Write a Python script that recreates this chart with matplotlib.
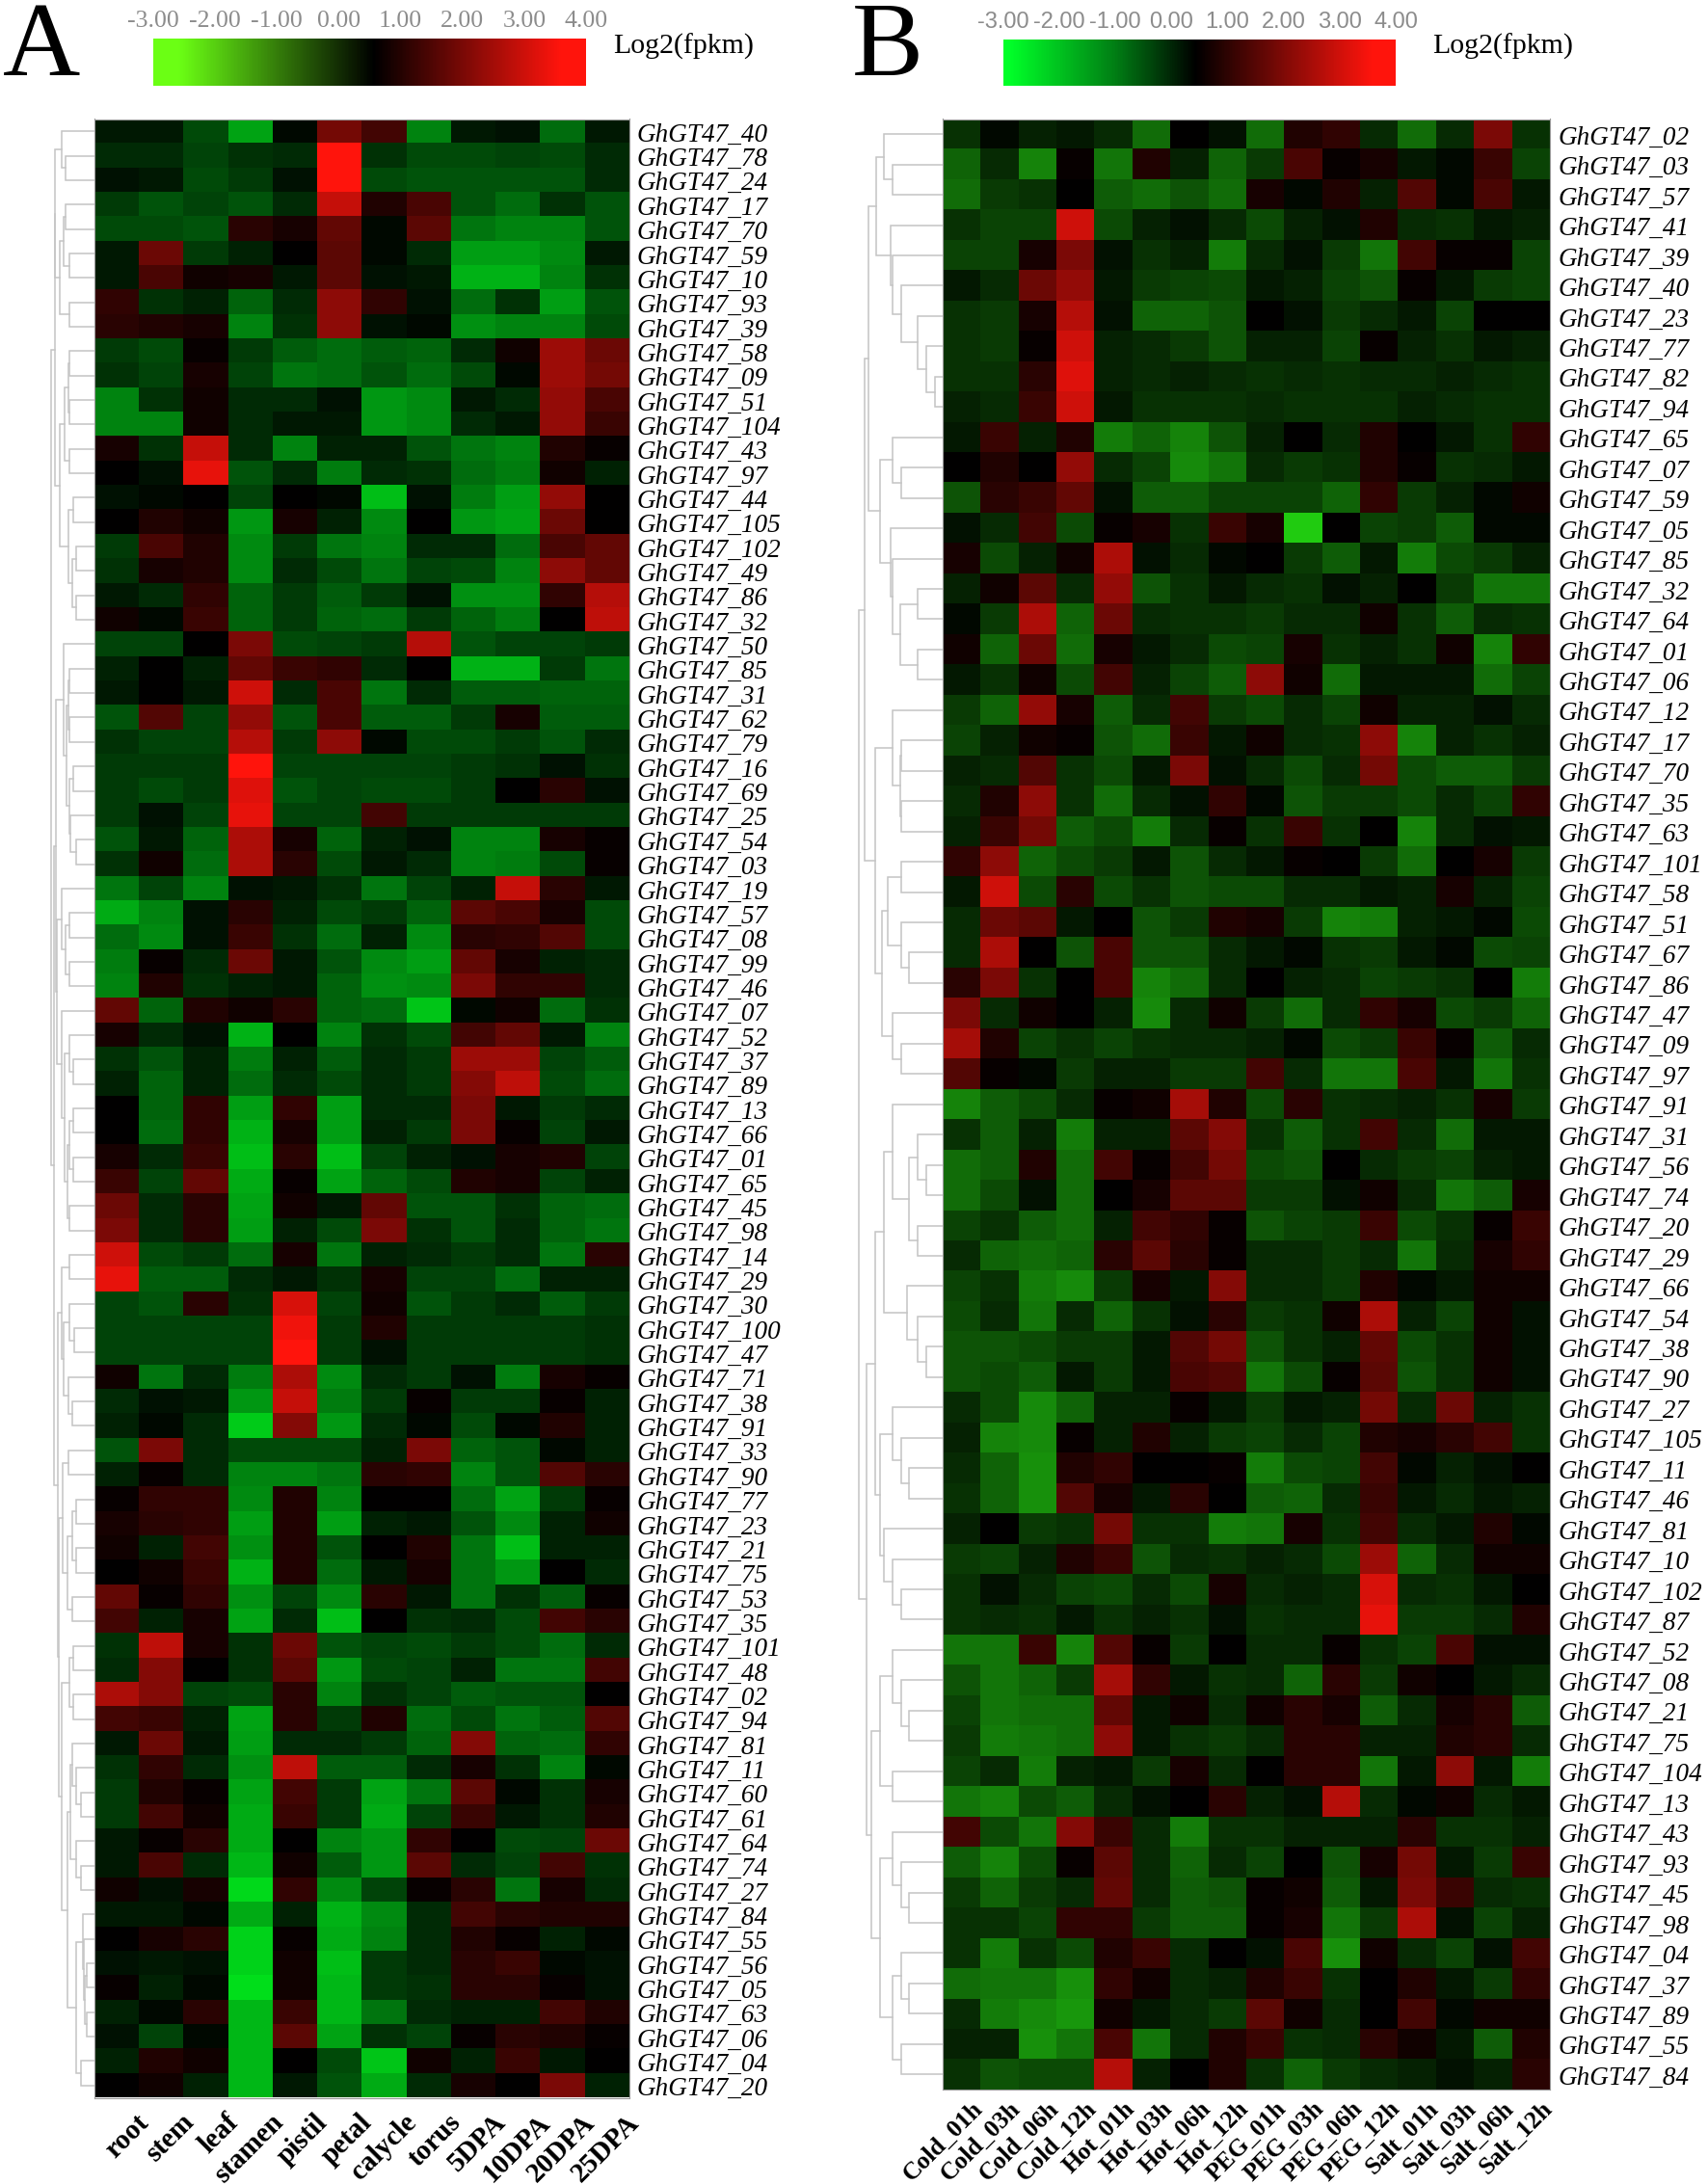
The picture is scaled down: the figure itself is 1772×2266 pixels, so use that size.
import numpy as np
import matplotlib
matplotlib.use("Agg")
import matplotlib.pyplot as plt
from matplotlib.colors import LinearSegmentedColormap, Normalize

W, H = 1772, 2266

# panel A
tissues = ['root', 'stem', 'leaf', 'stamen', 'pistil', 'petal', 'calycle', 'torus', '5DPA', '10DPA', '20DPA', '25DPA']
genes_a = ['40','78','24','17','70','59','10','93','39','58','09','51','104','43','97','44','105','102','49','86','32',
           '50','85','31','62','79','16','69','25','54','03','19','57','08','99','46','07','52','37','89','13','66','01',
           '65','45','98','14','29','30','100','47','71','38','91','33','90','77','23','21','75','53','35','101','48','02',
           '94','81','11','60','61','64','74','27','84','55','56','05','63','06','04','20']
vals_a = [
 [.2,.2,-.4,-1.6,.4,1.9,1.3,-1.1,.2,.3,-.8,.2],
 [0,0,-.3,-.1,0,3.6,-.1,-.4,-.4,-.3,-.4,0],
 [.3,.2,-.4,-.2,.3,3.6,-.4,-.5,-.5,-.5,-.5,0],
 [-.2,-.5,-.3,-.5,0,2.9,.9,1.4,-.5,-.8,-.1,-.5],
 [-.4,-.4,-.5,1.0,.8,1.7,.4,1.6,-.9,-1.1,-1.1,-.5],
 [.2,1.8,-.2,.1,.5,1.6,.4,0,-1.5,-1.5,-1.2,.2],
 [.2,1.4,.7,.8,.2,1.6,.3,.2,-1.8,-1.8,-1.1,-.1],
 [1.1,-.1,.1,-.7,0,2.2,1.1,.3,-.8,-.1,-1.5,-.5],
 [1.0,.9,.8,-1.1,-.1,2.2,.3,.4,-1.3,-1.1,-1.1,-.4],
 [-.2,-.4,.6,-.2,-.6,-.8,-.6,-.7,0,.7,2.4,1.8],
 [-.1,-.3,.8,-.3,-.9,-.8,-.5,-.8,-.4,.4,2.4,1.9],
 [-1.1,-.1,.7,0,0,.3,-1.4,-1.2,.2,0,2.3,1.4],
 [-1.1,-1.1,.7,0,.2,.2,-1.4,-1.2,0,.2,2.3,1.2],
 [.8,-.1,2.9,0,-1.1,.1,.1,-.5,-.9,-1.1,.9,.6],
 [.5,.3,3.3,-.5,0,-1,0,-.1,-.8,-1,.7,.1],
 [.3,.4,.5,-.3,.5,.4,-2,.3,-1,-1.5,2.3,.5],
 [.5,.9,.7,-1.4,.8,.1,-1.2,.5,-1.4,-1.6,1.8,.5],
 [-.2,1.4,.9,-1.2,-.2,-.9,-1.1,0,0,-.8,1.4,1.7],
 [-.1,.8,.9,-1.2,0,-.4,-.9,-.3,-.4,-1.1,2.2,1.7],
 [.2,0,1.1,-.7,-.2,-.6,-.2,.3,-1.3,-1.3,1.1,2.7],
 [.7,.4,1.2,-.7,-.2,-.7,-.8,-.2,-.7,-1,.5,2.8],
 [-.3,-.3,.5,2.0,-.4,-.3,-.2,2.7,-.5,-.3,-.3,-.2],
 [.1,.5,.1,1.7,1.2,1.1,0,.5,-1.8,-1.8,-.2,-.9],
 [.2,.5,.2,3.0,0,1.4,-.9,0,-.6,-.6,-.7,-.7],
 [-.5,1.5,-.3,2.3,-.5,1.4,-.6,-.6,-.2,.8,-.6,-.6],
 [-.1,-.3,-.3,2.7,-.2,2.2,.4,-.4,-.4,-.2,-.5,0],
 [-.2,-.2,-.2,3.6,-.3,-.3,-.3,-.3,-.2,-.1,.3,-.1],
 [-.2,-.4,-.2,3.2,-.5,-.3,-.4,-.4,-.2,.5,1.0,.3],
 [-.2,.3,-.3,3.3,-.3,-.3,1.3,-.2,-.2,-.2,-.2,-.2],
 [-.5,.2,-.7,2.6,.8,-.7,.1,.3,-1.1,-1.1,.8,.6],
 [-.1,.7,-.8,2.6,1.0,-.4,.2,0,-1.1,-1,-.4,.6],
 [-.9,-.3,-1.1,.3,.2,-.1,-.9,-.3,.1,2.9,1.0,.2],
 [-1.7,-1.1,.3,1.0,.1,-.4,-.2,-.7,1.6,1.4,.8,-.4],
 [-.8,-1.2,.3,1.2,-.1,-.8,.1,-1.2,1.0,1.1,1.5,-.4],
 [-1,.6,0,1.8,.2,-.5,-1.2,-1.5,1.7,.8,.1,0],
 [-1.1,.9,-.1,.1,.2,-.7,-1.3,-1.2,2.0,1.1,1.1,0],
 [1.7,-.7,.9,.7,1,-.7,-.8,-2.1,.4,.7,-.8,-.1],
 [.8,0,.3,-1.8,.5,-1.1,-.1,-.4,1.3,1.7,.2,-1.1],
 [-.1,-.5,.1,-1,.1,-.6,0,-.2,2.4,2.4,-.3,-.6],
 [.1,-.7,.1,-.8,0,-.4,0,-.2,2.1,2.8,-.4,-.8],
 [.5,-.7,1.1,-1.5,1.1,-1.5,0,0,2.0,.2,-.2,0],
 [.5,-.8,1.1,-1.8,.8,-1.5,.1,-.2,2,.6,-.3,.2],
 [.8,0,1.2,-2,1,-2,-.3,.1,.3,.8,.9,-.3],
 [1.2,-.3,1.7,-1.7,.6,-1.6,-.7,-.4,.9,.8,-.3,.1],
 [1.8,0,1,-1.6,.7,.2,1.7,-.5,-.5,-.1,-.7,-.8],
 [2,0,1,-1.5,.1,-.4,2,-.1,-.5,0,-.7,-.9],
 [3.0,-.4,-.2,-.8,.8,-.9,.1,0,-.2,0,-.9,1.0],
 [3.3,-.6,-.6,0,.2,-.1,.8,-.3,-.3,-.8,.1,.1],
 [-.3,-.5,1,-.1,3.1,-.3,.7,-.5,-.2,0,-.6,-.2],
 [-.3,-.3,-.3,-.3,3.4,-.2,.9,-.2,-.2,-.2,-.2,-.1],
 [-.3,-.3,-.3,-.3,3.6,-.2,.3,-.2,-.2,-.2,-.2,-.1],
 [.7,-.9,0,-1,2.6,-1.2,0,-.2,.3,-1,.8,.6],
 [0,.3,.2,-1.4,2.9,-1,-.2,.6,-.2,-.2,.6,.1],
 [.1,.4,0,-2.2,2.1,-1.4,0,.4,-.4,.4,.9,.1],
 [-.5,2,0,-.4,-.4,-.4,.1,2.0,-.7,-.5,.4,.1],
 [.1,.6,0,-1.1,-1.1,-.9,1.0,1.1,-1.1,-.5,1.5,1.0],
 [.6,1.1,1.1,-1.2,.9,-1.1,.5,.5,-.8,-1.6,-.2,.6],
 [.8,1,1.1,-1.5,.9,-1.5,.1,.2,-.5,-1.2,.1,.7],
 [.7,.1,1.3,-1.3,.9,-.5,.5,.9,-.9,-2,.1,.1],
 [.5,.7,1.2,-1.8,.9,-.8,.2,.8,-.9,-1.4,.5,0],
 [1.7,.6,1.1,-1.3,-.3,-1.2,1,.2,-.9,-.1,-.6,.6],
 [1.3,.1,.8,-1.6,0,-2,.5,-.1,0,-.4,1.3,1],
 [-.1,2.8,.8,-.1,1.8,-.5,-.3,-.4,-.2,-.4,-.8,0],
 [0,2.1,.5,-.1,1.6,-1.4,-.4,-.3,.1,-.9,-.9,1.3],
 [2.6,2.1,-.3,-.4,1,-1.1,-.1,-.3,-.6,-.5,-.5,.5],
 [1.3,1.2,.1,-1.6,1,-.2,.9,-.8,-.4,-.9,-.6,1.5],
 [.2,1.8,.2,-1.5,0,0,-.2,-.7,2.1,-.7,-.8,1.1],
 [-.1,1.1,0,-1.3,2.8,-.6,-.6,0,.8,-.1,-1.1,.4],
 [-.2,.9,.6,-1.6,1.3,-.2,-1.6,-.9,1.6,.4,-.1,.8],
 [-.2,1.3,.7,-1.7,1.2,-.2,-1.7,-.3,1.2,.2,-.1,.9],
 [.2,.6,1,-1.7,.5,-1.1,-1.4,1.1,.5,-.4,-.3,1.8],
 [.2,1.4,0,-1.9,.7,-.6,-1.4,1.6,0,-.3,1.3,-.1],
 [.7,.3,.8,-2.4,1.1,-1.2,-.3,.6,1,-.9,.8,0],
 [.2,.2,.4,-1.7,.1,-1.8,-1.2,0,1.3,1,.9,.9],
 [.5,.8,1,-2.3,.6,-1.7,-1.1,0,.9,.6,.1,.4],
 [.3,.2,.3,-2.3,.7,-2,-.2,0,1,1.2,.4,.3],
 [.6,.1,.4,-2.5,.7,-1.9,-.2,-.1,1,1,.6,.3],
 [.1,.4,1,-1.9,1.2,-1.9,-.9,0,.1,.1,1.3,.9],
 [.3,-.3,.4,-1.9,1.6,-1.6,-.1,-.3,.6,1,.9,.6],
 [.1,.9,.7,-1.9,.5,-.4,-2.1,.7,.1,1.2,.2,.5],
 [.5,.7,.1,-1.9,.2,-.5,-1.7,0,.8,.5,2.0,.1],
]

# panel B
stresses = ['Cold_01h','Cold_03h','Cold_06h','Cold_12h','Hot_01h','Hot_03h','Hot_06h','Hot_12h',
            'PEG_01h','PEG_03h','PEG_06h','PEG_12h','Salt_01h','Salt_03h','Salt_06h','Salt_12h']
genes_b = ['02','03','57','41','39','40','23','77','82','94','65','07','59','05','85','32','64','01','06','12','17','70',
           '35','63','101','58','51','67','86','47','09','97','91','31','56','74','20','29','66','54','38','90','27',
           '105','11','46','81','10','102','87','52','08','21','75','104','13','43','93','45','98','04','37','89','55','84']
vals_b = [
 [-.1,.4,.1,.2,0,-.8,.5,.3,-.8,.9,1.1,0,-.8,0,2,-.1],
 [-.7,0,-1.1,.6,-.9,.9,.1,-.7,-.2,1.4,.6,.8,.2,.4,1.2,-.3],
 [-.8,-.2,-.1,.5,-.6,-.8,-.5,-.8,.8,.4,.9,.1,1.5,.4,1.4,.2],
 [-.1,-.3,-.3,3,-.4,.1,.3,0,-.4,.1,.3,.9,0,-.1,.2,.1],
 [-.3,-.3,.8,2,.3,-.1,.1,-1,0,.3,-.2,-.9,1.3,.6,.6,-.3],
 [.2,0,1.8,2.3,.2,-.2,-.3,-.4,.2,.1,-.3,-.5,.6,.2,-.2,-.3],
 [-.1,-.2,.8,2.7,.3,-.7,-.7,-.5,.5,.3,-.2,0,.2,-.3,.5,.5],
 [-.1,-.2,.6,3,.1,0,-.2,-.5,.1,.1,-.3,.6,.1,-.1,.2,.1],
 [-.1,-.1,1,3.2,.1,0,.1,0,-.1,0,-.1,0,0,.1,0,-.1],
 [.1,0,1.2,3,.2,-.1,-.1,-.1,0,-.1,-.1,-.1,.1,0,-.1,-.1],
 [.2,1.2,.1,.9,-1,-.7,-1.1,-.5,.1,.5,0,.9,.5,.2,-.1,1.1],
 [.5,.9,.5,2.3,0,-.3,-1.2,-.9,0,-.2,-.1,.9,.6,-.1,0,.2],
 [-.5,1,1.2,1.7,.3,-.6,-.6,-.3,-.3,-.3,-.7,1.1,-.2,.1,.4,.7],
 [.3,0,1.3,-.4,.6,.8,-.1,1.2,.8,-2.2,.5,-.3,-.2,-.6,.4,.4],
 [.8,-.4,.1,.7,2.6,.3,0,.4,.5,-.2,-.6,.2,-1,-.4,-.2,.1],
 [.1,.7,1.6,0,2.3,-.5,-.1,.2,0,-.1,.3,.1,.5,-.2,-.9,-.9],
 [.4,-.2,2.6,-.7,1.8,0,-.1,-.1,-.2,0,0,.7,-.1,-.6,0,-.1],
 [.7,-.7,1.8,-.8,.8,.2,0,-.4,-.3,.8,-.1,.1,-.1,.7,-1.1,1.1],
 [.2,-.1,.7,-.4,1.3,.1,-.3,-.6,2.2,.7,-.8,.2,.2,.2,-.8,-.3],
 [-.2,-.7,2.3,.8,-.6,0,1.3,-.2,-.4,0,-.3,.7,.1,.1,.3,0],
 [-.3,.1,.7,.6,-.5,-.8,1.2,.2,.7,0,-.1,2.2,-1.1,.1,-.1,.1],
 [.1,0,1.5,-.1,-.4,.2,2,.3,0,-.4,0,1.9,-.4,-.6,-.6,-.2],
 [0,.9,2.2,-.1,-.8,0,.3,1.1,.4,-.5,-.2,-.2,-.4,0,-.3,1.1],
 [.1,1.2,1.9,-.6,-.4,-1,0,.6,-.1,1.2,-.1,.5,-1.1,0,.3,.2],
 [1.1,2.2,-.7,-.4,-.2,.2,-.5,0,.2,.6,.5,-.2,-.8,.5,.8,-.2],
 [.2,3,-.4,1,-.4,-.1,-.5,-.4,-.4,0,0,.2,.1,.8,.1,-.3],
 [0,1.8,1.6,.2,.5,-.5,-.2,.9,.8,-.2,-1.1,-1,.1,.2,.4,-.4],
 [0,2.6,.5,-.5,1.4,-.5,-.5,0,.2,.4,-.1,-.2,.2,.4,-.4,-.3],
 [1,2,-.1,.5,1.4,-1.1,-.8,0,.5,.1,0,-.3,-.2,-.1,.5,-1],
 [2,0,.7,.5,.1,-1.2,0,.7,-.2,-.8,0,1.1,.8,-.4,-.2,-.7],
 [2.5,.9,-.3,-.1,-.3,-.1,0,0,.1,.4,-.4,-.2,1.2,.6,-.6,0],
 [1.5,.6,.4,-.2,.1,.1,-.2,-.2,1.3,0,-.9,-.9,1.4,.2,-.9,-.1],
 [-1.1,-.6,-.4,0,.6,.7,2.5,.9,-.4,1,-.1,0,.1,-.1,.8,-.2],
 [-.1,-.6,.1,-1,.1,.1,1.6,2.1,-.1,-.6,-.1,1.3,0,-.8,.2,.2],
 [-.8,-.6,.9,-.8,1.3,.6,1.3,1.9,-.4,-.5,.5,0,-.2,-.3,.1,.2],
 [-.8,-.4,.3,-.8,.5,.8,1.6,1.6,-.2,-.2,.3,.7,0,-.9,-.6,.8],
 [-.3,-.1,-.6,-.8,.1,1.3,1.1,.6,-.5,-.3,-.2,1.2,-.4,-.1,.6,1.2],
 [0,-.7,-.8,-.7,1,1.6,1,.6,0,0,-.2,0,-.9,0,.8,1.1],
 [-.3,-.1,-1,-1.2,-.2,.8,.2,2.1,0,0,-.2,.9,.4,.2,.7,.7],
 [-.4,0,-.9,0,-.7,-.1,.3,1,-.2,-.1,.7,2.6,.1,-.3,.7,.3],
 [-.5,-.5,-.4,-.2,-.2,.2,1.5,1.9,-.5,-.1,.1,1.7,-.4,-.1,.7,.3],
 [-.5,-.4,-.6,.2,-.2,.2,1.4,1.5,-.9,-.4,.6,1.6,-.5,-.1,.7,.3],
 [0,-.4,-1.2,-.7,.1,.1,.6,.2,-.2,.2,.1,1.9,0,1.8,.1,-.1],
 [.1,-1.1,-1.2,.6,.1,.9,.1,-.2,-.3,0,-.3,.9,.8,1,1.3,-.1],
 [0,-.7,-1.3,.9,1.1,.5,.5,.6,-1,-.4,-.3,1.3,.4,.1,.3,.5],
 [-.1,-.7,-1.3,1.5,.8,.2,1,.5,-.6,-.7,0,1.2,.2,0,.2,.1],
 [.1,.5,-.2,-.1,1.9,-.1,-.1,-1,-.9,.8,-.1,1.3,0,.2,.9,.4],
 [-.2,-.3,.1,.9,1.2,-.5,0,-.1,.1,0,-.4,2.4,-.7,0,.7,.7],
 [-.1,.3,0,-.3,-.4,0,-.4,.8,0,.1,0,3.1,0,-.1,.2,.5],
 [-.1,0,-.1,.2,-.1,.1,-.1,.3,-.1,0,0,3.3,-.2,-.2,0,.9],
 [-.9,-.9,1.2,-1.1,1.5,.6,-.2,.5,0,0,.6,-.1,-.3,1.4,.3,.3],
 [-.5,-.9,-.7,-.2,2.5,1.1,.2,-.1,0,-.7,1,-.2,.7,.5,.2,0],
 [-.3,-.9,-.8,-.8,1.7,.2,.7,0,.7,1,.8,-.6,0,.8,1,-.6],
 [-.2,-1,-.9,-.8,2.2,.2,-.1,-.2,0,1,1,.1,.1,.9,1,0],
 [-.3,0,-1,.1,.2,-.2,.8,0,.5,1,1,-.9,.2,2.2,.2,-1],
 [-.9,-1.1,-.4,-.6,0,.3,.5,1,.1,.3,2.7,0,.4,.7,0,.2],
 [1.3,-.4,-.9,2.1,1.2,0,-1,-.1,-.1,.1,.1,.1,1,-.1,-.1,.1],
 [-.6,-1.1,-.4,.6,1.6,0,-.7,0,-.3,.5,-.5,.8,1.9,.2,-.2,1.2],
 [-.2,-.7,-.2,0,1.7,0,-.6,-.5,.6,.7,-.6,.2,2,1.2,0,-.1],
 [-.1,-.1,-.3,1.1,1.1,-.2,-.6,-.6,.6,.8,-.9,-.2,2.6,.3,-.3,.1],
 [-.1,-1,-.1,-.4,.9,1.2,0,.5,.3,1.4,-1.3,.7,0,-.3,.3,1.3],
 [-.8,-.9,-.9,-1.3,1.1,.7,0,.1,.9,1.2,-.1,.5,.9,.2,-.2,1.1],
 [0,-1,-1.2,-1.4,.7,.2,0,-.2,1.6,.7,0,.5,1.3,.4,.7,.7],
 [.1,.1,-1.3,-.9,1.4,-.9,0,.9,1.2,-.1,0,1,.7,.2,-.6,.9],
 [-.1,-.5,-.4,-.4,2.7,.1,.5,.9,-.1,-.7,-.2,0,.1,.3,.1,1],
]

# dendrograms: [merge height, child, child], 0 is a leaf
a1 = [.91,[.75,0,[.67,0,0]],[.8,[.7,[.67,0,0],[.57,0,0]],[.57,0,0]]]
a2 = [.8,[.68,[.6,[.57,0,0],[.57,0,0]],[.57,0,0]],[.6,[.48,0,0],[.5,[.42,0,0],[.42,0,0]]]]
a3 = [.7,0,[.65,[.6,[.57,0,0],[.57,0,0]],[.58,[.48,0,0],[.55,0,[.42,0,0]]]]]
a4 = [.75,0,[.66,[.57,0,0],[.57,0,0]]]
a5 = [.76,0,[.68,[.58,0,[.48,0,0]],[.62,[.58,[.48,0,0],[.48,0,0]],[.57,0,0]]]]
a6 = [.75,[.57,0,0],[.7,[.57,0,[.47,0,0]],[.6,0,[.5,0,0]]]]
a7 = [.73,[.6,0,0],[.62,[.5,[.42,0,0],[.42,0,0]],[.5,0,0]]]
a8 = [.75,[.57,[.48,0,0],[.48,0,0]],[.62,[.55,[.5,0,[.42,0,[.32,0,0]]],[.42,0,[.32,0,0]]],
     [.42,[.26,0,[.24,0,[.22,[.18,0,0],[.18,0,0]]]],[.32,0,0]]]]
tree_a = [1.0,[.92,a1,a2],[.94,[.88,a3,[.86,a4,a5]],[.85,a6,[.83,a7,a8]]]]

b1 = [.79,[.7,0,[.6,0,0]],[.62,0,[.6,0,[.49,0,[.3,0,[.19,0,[.09,0,0]]]]]]]
b2 = [.6,0,[.49,0,0]]
b3 = [.62,0,[.6,0,[.5,[.3,0,0],[.3,0,0]]]]
b4 = [.6,0,[.5,[.49,0,0],[.49,0,0]]]
b5 = [.65,[.49,0,0],[.49,0,[.4,0,0]]]
b6 = [.6,0,[.49,0,0]]
b7 = [.6,0,[.4,[.3,0,[.19,0,0]],[.3,0,0]]]
b8 = [.42,0,[.3,0,[.19,0,0]]]
b9 = [.6,0,[.49,0,[.4,0,0]]]
b10 = [.7,0,[.6,0,[.49,0,0]]]
b11 = [.6,0,[.49,0,[.4,0,0]]]
b12 = [.6,0,0]
b13 = [.6,0,[.49,0,[.4,0,0]]]
b14 = [.6,[.49,0,[.4,0,0]],[.49,0,0]]
tree_b = [1.0,[.93,[.88,b1,[.75,b2,b3]],[.8,b4,[.72,b5,b6]]],
          [.9,[.8,[.7,b7,b8],[.75,b9,b10]],[.85,[.75,b11,b12],[.75,b13,b14]]]]

bar_ticks = [-3, -2, -1, 0, 1, 2, 3, 4]
bar_labels = ['-3.00', '-2.00', '-1.00', '0.00', '1.00', '2.00', '3.00', '4.00']

norm = Normalize(-3, 4)


def make_cmap(low, mid, clip_low=-3.0):
    # green side is lifted a little at -1, the cells in the picture are brighter there
    knee = tuple(0.49 * c for c in low)
    nodes = [((clip_low + 3) / 7, low), (2 / 7, knee), ((mid + 3) / 7, (0, 0, 0)),
             (6.6 / 7, (1, .08, .05)), (1, (1, .08, .05))]
    if clip_low > -3:
        nodes = [(0, low)] + nodes
    return LinearSegmentedColormap.from_list('gbr', nodes)


def axes_px(x0, y0, x1, y1):
    return fig.add_axes([x0 / W, 1 - y1 / H, (x1 - x0) / W, (y1 - y0) / H])


def draw_tree(ax, node, nxt):
    # returns y of this node, nxt[0] is the next free leaf row
    if node == 0:
        y = nxt[0]
        nxt[0] += 1
        return y, 0.0
    h, left, right = node
    y1, h1 = draw_tree(ax, left, nxt)
    y2, h2 = draw_tree(ax, right, nxt)
    ax.plot([h1, h, h, h2], [y1, y1, y2, y2], color='#c4c4c4', lw=1.1, solid_joinstyle='miter')
    return (y1 + y2) / 2, h


def panel(vals, genes, cols, tree, box, tree_x, label_x, cell_cmap, col_size, col_dx, col_dy):
    data = np.array(vals)
    x0, y0, x1, y1 = box
    ax = axes_px(x0, y0, x1, y1)
    ax.imshow(data, cmap=cell_cmap, norm=norm, aspect='auto', interpolation='nearest')
    ax.set_xticks([])
    ax.set_yticks([])
    for s in ax.spines.values():
        s.set_color('#9a9a9a')
        s.set_linewidth(0.8)
    for i, g in enumerate(genes):
        ax.annotate('GhGT47_' + g, (data.shape[1] - 0.5, i), xytext=(label_x - x1, -4), textcoords='offset pixels',
                    ha='left', va='center', fontsize=19.5, family='Liberation Serif', style='italic',
                    annotation_clip=False)
    for j, c in enumerate(cols):
        ax.annotate(c, (j, data.shape[0] - 0.5), xytext=(col_dx, col_dy), textcoords='offset pixels',
                    ha='right', va='top', rotation=45, rotation_mode='anchor', fontsize=col_size,
                    family='Liberation Serif', weight='bold', annotation_clip=False)
    tx = axes_px(tree_x, y0, x0, y1)
    draw_tree(tx, tree, [0])
    tx.set_xlim(1.02, 0)
    tx.set_ylim(data.shape[0] - 0.5, -0.5)
    tx.axis('off')


def colorbar(box, cmap, family, size, text_x, letter, letter_x):
    bx = axes_px(*box)
    bx.imshow(np.linspace(-3, 4, 400)[None, :], cmap=cmap, norm=norm, aspect='auto', extent=[-3, 4, 0, 1])
    bx.set_yticks([])
    bx.set_xticks(bar_ticks)
    bx.set_xticklabels(bar_labels, family=family, fontsize=size, color='#8c8c8c')
    bx.xaxis.tick_top()
    bx.tick_params(axis='x', length=0, pad=5)
    for s in bx.spines.values():
        s.set_visible(False)
    fig.text(text_x / W, 1 - 48 / H, 'Log2(fpkm)', family='Liberation Serif', fontsize=21.5, va='center', ha='left')
    fig.text(letter_x / W, 1 - 78 / H, letter, family='Liberation Serif', fontsize=80, va='baseline', ha='left')


fig = plt.figure(figsize=(W / 100, H / 100), dpi=100)

cells_a = make_cmap((0, 1, .12), .5)
cells_b = make_cmap((.16, 1, .08), .5)
bar_a = make_cmap((.42, 1, .08), .57, -2.6)
bar_b = make_cmap((0, 1, .16), .43, -2.9)

panel(vals_a, genes_a, tissues, tree_a, (98, 123.5, 652.5, 2176.5), 52, 661, cells_a, 21, 20, -12)
panel(vals_b, genes_b, stresses, tree_b, (978, 123.5, 1608, 2168), 889, 1616, cells_b, 18.5, 10, -8)

colorbar((159, 40, 608, 89), bar_a, 'Liberation Serif', 18.5, 636, 'A', 3)
colorbar((1041, 41, 1448, 89), bar_b, 'Liberation Sans', 17, 1486, 'B', 884)

fig.savefig('out.png', dpi=100)
